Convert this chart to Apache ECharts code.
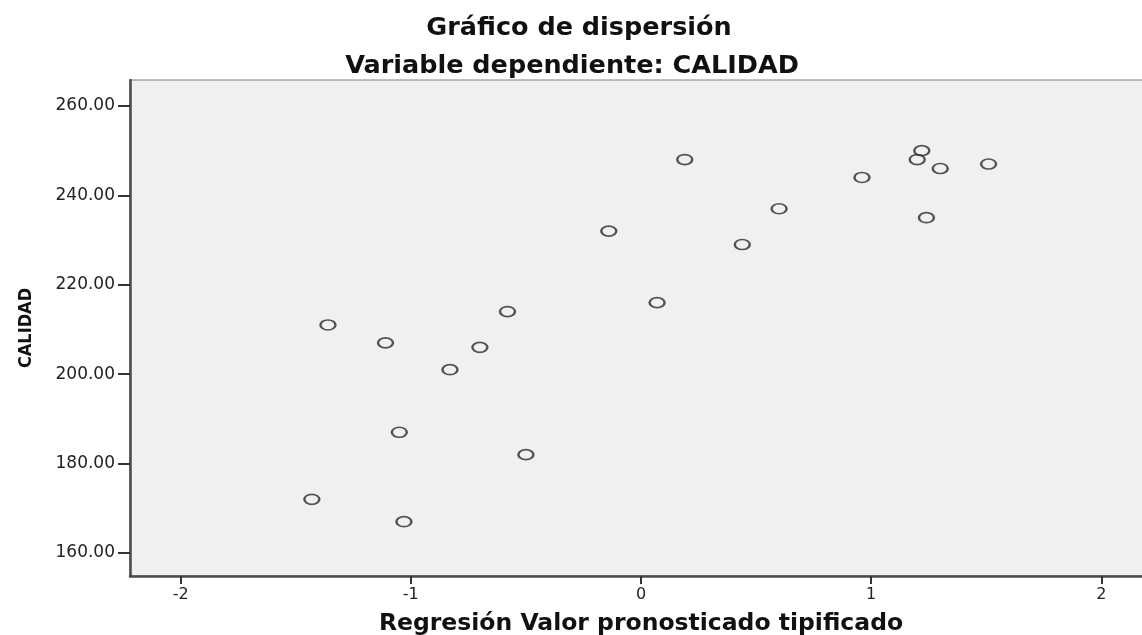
<!DOCTYPE html>
<html>
<head>
<meta charset="utf-8">
<script src="https://cdn.jsdelivr.net/npm/echarts@6/dist/echarts.min.js"></script>
<style>
html,body{margin:0;padding:0;background:#fff;}
#chart{width:1142px;height:635px;}
</style>
</head>
<body>
<div id="chart"></div>
<script>
// Data
var predicted = [0.19, 1.22, 1.20, 1.30, 1.51, 0.96, 0.60, 1.24, -0.14, 0.44, 0.07, -0.58, -1.36, -1.11, -0.70, -0.83, -1.05, -0.50, -1.43, -1.03];
var calidad   = [248, 250, 248, 246, 247, 244, 237, 235, 232, 229, 216, 214, 211, 207, 206, 201, 187, 182, 172, 167];
var xTicks = [-2, -1, 0, 1, 2];
var yTicks = [160, 180, 200, 220, 240, 260];
var titleText = 'Gráfico de dispersión';
var subtitleText = 'Variable dependiente: CALIDAD';
var xName = 'Regresión Valor pronosticado tipificado';
var yName = 'CALIDAD';

var points = predicted.map(function (v, i) { return [v, calidad[i]]; });

var chart = echarts.init(document.getElementById('chart'), null, {renderer: 'canvas'});
chart.setOption({
  animation: false,
  backgroundColor: '#ffffff',
  title: [
    {text: titleText, left: 574, top: 10, textAlign: 'center',
     textStyle: {fontFamily: 'DejaVu Sans', fontWeight: 'bold', fontSize: 25.5, color: '#111'}},
    {text: subtitleText, left: 567, top: 48, textAlign: 'center',
     textStyle: {fontFamily: 'DejaVu Sans', fontWeight: 'bold', fontSize: 25.5, color: '#111'}}
  ],
  grid: {left: 130, right: -10, top: 80, bottom: 59, show: true,
         outerBoundsMode: 'none', containLabel: false,
         backgroundColor: '#f0f0f0', borderColor: '#808080', borderWidth: 1},
  xAxis: {
    type: 'value', min: -2.22, max: 2.22,
    name: xName, nameLocation: 'middle', nameGap: 36,
    nameTextStyle: {fontFamily: 'DejaVu Sans', fontWeight: 'bold', fontSize: 23.5, color: '#111'},
    splitLine: {show: false},
    axisLine: {show: true, onZero: false, lineStyle: {color: '#4a4a4a', width: 2.5}},
    axisTick: {show: true, length: 8, customValues: xTicks, lineStyle: {color: '#333', width: 2}},
    axisLabel: {customValues: xTicks, margin: 11, fontFamily: 'DejaVu Sans', fontSize: 16, color: '#222',
                formatter: function (v) { return String(v); }}
  },
  yAxis: {
    type: 'value', min: 154.85, max: 265.8,
    name: yName, nameLocation: 'middle', nameGap: 95, nameRotate: 90,
    nameTextStyle: {fontFamily: "'DejaVu Sans Condensed', sans-serif", fontWeight: 'bold', fontSize: 18, color: '#111'},
    splitLine: {show: false},
    axisLine: {show: true, onZero: false, lineStyle: {color: '#4a4a4a', width: 2.5}},
    axisTick: {show: true, length: 12, customValues: yTicks, lineStyle: {color: '#333', width: 2}},
    axisLabel: {customValues: yTicks, margin: 15, fontFamily: 'DejaVu Sans', fontSize: 17, color: '#222',
                formatter: function (v) { return Number(v).toFixed(2); }}
  },
  series: [{
    type: 'scatter',
    data: points,
    symbol: 'circle',
    symbolSize: [15, 10],
    itemStyle: {color: 'rgba(240,240,240,0)', borderColor: '#2a2a2a', borderWidth: 2}
  }]
});
</script>
</body>
</html>
